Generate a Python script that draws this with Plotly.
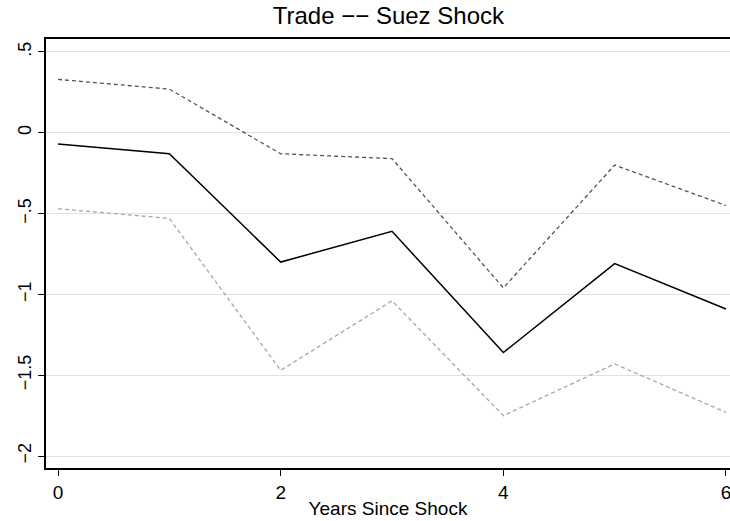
import plotly.graph_objects as go

years = [0, 1, 2, 3, 4, 5, 6]
estimate = [-0.07, -0.13, -0.80, -0.61, -1.36, -0.81, -1.09]
upper_ci = [0.33, 0.27, -0.13, -0.16, -0.96, -0.20, -0.45]
lower_ci = [-0.47, -0.53, -1.47, -1.04, -1.75, -1.43, -1.73]

ytick_vals = [0.5, 0, -0.5, -1, -1.5, -2]
ytick_text = [".5", "0", "\u2212.5", "\u22121", "\u22121.5", "\u22122"]
xtick_vals = [0, 2, 4, 6]

font = "Liberation Sans, Arial, sans-serif"

fig = go.Figure()
fig.add_trace(go.Scatter(x=years, y=upper_ci, mode="lines",
                         line=dict(color="#555555", width=1.3, dash="4px,3px"), showlegend=False))
fig.add_trace(go.Scatter(x=years, y=lower_ci, mode="lines",
                         line=dict(color="#a6a6a6", width=1.3, dash="4px,3px"), showlegend=False))
fig.add_trace(go.Scatter(x=years, y=estimate, mode="lines",
                         line=dict(color="black", width=1.5), showlegend=False))

fig.update_layout(
    width=730, height=521,
    margin=dict(l=46, r=0, t=39, b=53),
    plot_bgcolor="white", paper_bgcolor="white",
    font=dict(family=font, color="black"),
    title=dict(text="Trade \u2212\u2212 Suez Shock", x=0.532, xanchor="center",
               y=0.97, yanchor="middle", font=dict(size=24, family=font, color="black")),
)
fig.update_xaxes(range=[-0.108, 6.036], tickvals=xtick_vals, ticks="outside", ticklen=6,
                 tickcolor="black", tickwidth=1, showgrid=False, zeroline=False,
                 showline=True, linecolor="black", linewidth=1.5, mirror=True,
                 ticklabeloverflow="allow", automargin=False,
                 tickfont=dict(size=19), title=dict(text="Years Since Shock", font=dict(size=19), standoff=0))
fig.update_yaxes(range=[-2.074, 0.58], tickvals=ytick_vals, ticktext=ytick_text, tickangle=-90,
                 ticks="outside", ticklen=6, tickcolor="black", tickwidth=1,
                 showgrid=True, gridcolor="#e1e1e1", gridwidth=1.3, zeroline=False,
                 showline=True, linecolor="black", linewidth=1.5, tickfont=dict(size=18))

# drop the default 8px page margin so the figure sits at the window corner
fig.write_html("out.html", config={"displayModeBar": False},
               post_script="document.body.style.margin='0';")
